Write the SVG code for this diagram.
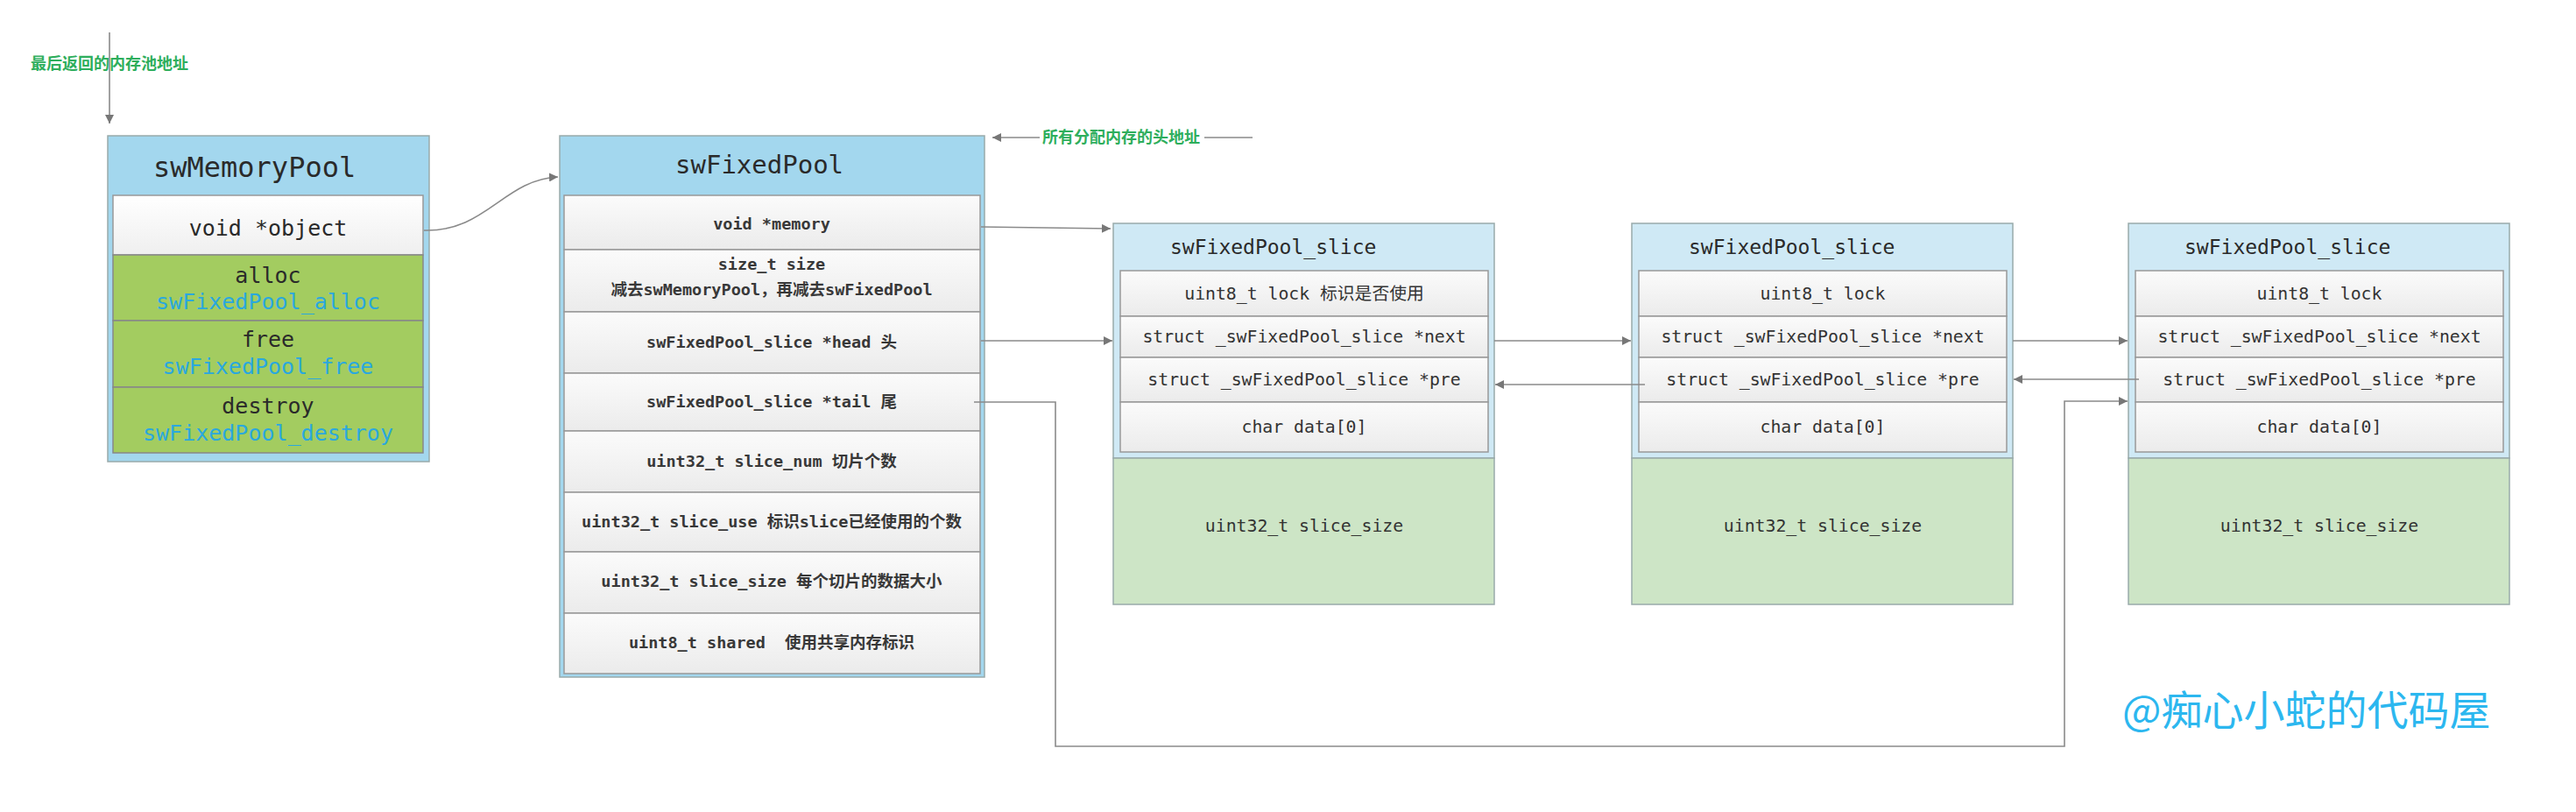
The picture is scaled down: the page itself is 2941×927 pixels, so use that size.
<svg xmlns="http://www.w3.org/2000/svg" width="2941" height="927" viewBox="0 0 2941 927">
<style>
.outer{fill:#a3d7ee;stroke:#9aa;stroke-width:1.5}
.souter{fill:#cfe9f5;stroke:#9aa;stroke-width:1.5}
.sgreen{fill:#cde5c6;stroke:#9aa;stroke-width:1.5}
.row{fill:url(#rowg);stroke:#999;stroke-width:1.5}
.wrow{fill:url(#wrowg);stroke:#999;stroke-width:1.5}
.grow{fill:#a3cc60;stroke:#888;stroke-width:1.5}
.mono{font-family:"DejaVu Sans Mono","Liberation Mono","Noto Sans CJK SC",monospace;fill:#2a2a2a}
.t1{font-size:32px}
.t2{font-size:29px}
.t3{font-size:23px}
.big{font-size:25px}
.fx{font-size:18.5px;font-weight:bold;fill:#383838}
.sl{font-size:19.8px;fill:#333}
.fn{fill:#2aa8de}
.lbl{font-family:"Noto Sans CJK SC","Noto Sans",sans-serif;font-size:18px;font-weight:bold;fill:#2eae5c}
.wm{font-family:"Noto Sans CJK SC","Noto Sans",sans-serif;font-size:47px;fill:#2cb7ef}
.c{text-anchor:middle}
.conn{fill:none;stroke:#8a8a8a;stroke-width:1.6}
</style>
<defs>
<linearGradient id="rowg" x1="0" y1="0" x2="0" y2="1"><stop offset="0" stop-color="#fbfbfb"/><stop offset="1" stop-color="#ebebeb"/></linearGradient>
<linearGradient id="wrowg" x1="0" y1="0" x2="0" y2="1"><stop offset="0" stop-color="#ffffff"/><stop offset="1" stop-color="#efefef"/></linearGradient>
<marker id="arr" viewBox="0 0 10 10" refX="10" refY="5" markerWidth="10" markerHeight="10" markerUnits="userSpaceOnUse" orient="auto">
<path d="M0,0 L10,5 L0,10 z" fill="#777"/>
</marker>
</defs>
<rect width="2941" height="927" fill="#ffffff"/>

<g id="label-return">
<text class="lbl" x="35" y="79">最后返回的内存池地址</text>
</g>

<g id="swMemoryPool">
<rect class="outer" x="123" y="155" width="367" height="372"/>
<text class="mono t1" x="175" y="202">swMemoryPool</text>
<rect class="wrow" x="129" y="223" width="354" height="68"/>
<text class="mono big c" x="306" y="269">void *object</text>
<rect class="grow" x="129" y="291" width="354" height="75"/>
<text class="mono big c" x="306" y="323">alloc</text>
<text class="mono big c fn" x="306" y="353">swFixedPool_alloc</text>
<rect class="grow" x="129" y="366" width="354" height="76"/>
<text class="mono big c" x="306" y="396">free</text>
<text class="mono big c fn" x="306" y="427">swFixedPool_free</text>
<rect class="grow" x="129" y="442" width="354" height="75"/>
<text class="mono big c" x="306" y="472">destroy</text>
<text class="mono big c fn" x="306" y="503">swFixedPool_destroy</text>
</g>

<g id="swFixedPool">
<rect class="outer" x="639" y="155" width="485" height="618"/>
<text class="mono t2" x="771" y="198">swFixedPool</text>
<rect class="row" x="644" y="223" width="475" height="62"/>
<text class="mono fx c" x="881" y="262">void *memory</text>
<rect class="row" x="644" y="285" width="475" height="71"/>
<text class="mono fx c" x="881" y="308">size_t size</text>
<text class="mono fx c" x="881" y="337">减去swMemoryPool，再减去swFixedPool</text>
<rect class="row" x="644" y="356" width="475" height="70"/>
<text class="mono fx c" x="881" y="397">swFixedPool_slice *head 头</text>
<rect class="row" x="644" y="426" width="475" height="66"/>
<text class="mono fx c" x="881" y="465">swFixedPool_slice *tail 尾</text>
<rect class="row" x="644" y="492" width="475" height="70"/>
<text class="mono fx c" x="881" y="533">uint32_t slice_num 切片个数</text>
<rect class="row" x="644" y="562" width="475" height="68"/>
<text class="mono fx c" x="881" y="602">uint32_t slice_use 标识slice已经使用的个数</text>
<rect class="row" x="644" y="630" width="475" height="70"/>
<text class="mono fx c" x="881" y="670">uint32_t slice_size 每个切片的数据大小</text>
<rect class="row" x="644" y="700" width="475" height="69"/>
<text class="mono fx c" x="881" y="740" style="white-space:pre">uint8_t shared  使用共享内存标识</text>
</g>

<g id="slice1">
<rect class="souter" x="1271" y="255" width="435" height="268"/>
<rect class="sgreen" x="1271" y="523" width="435" height="167"/>
<text class="mono t3" x="1336" y="290">swFixedPool_slice</text>
<rect class="row" x="1279" y="309" width="420" height="52"/>
<text class="mono sl c" x="1489" y="342">uint8_t lock 标识是否使用</text>
<rect class="row" x="1279" y="361" width="420" height="47"/>
<text class="mono sl c" x="1489" y="391">struct _swFixedPool_slice *next</text>
<rect class="row" x="1279" y="408" width="420" height="51"/>
<text class="mono sl c" x="1489" y="440">struct _swFixedPool_slice *pre</text>
<rect class="row" x="1279" y="459" width="420" height="57"/>
<text class="mono sl c" x="1489" y="494">char data[0]</text>
<text class="mono sl c" x="1489" y="607">uint32_t slice_size</text>
</g>

<g id="slice2">
<rect class="souter" x="1863" y="255" width="435" height="268"/>
<rect class="sgreen" x="1863" y="523" width="435" height="167"/>
<text class="mono t3" x="1928" y="290">swFixedPool_slice</text>
<rect class="row" x="1871" y="309" width="420" height="52"/>
<text class="mono sl c" x="2081" y="342">uint8_t lock</text>
<rect class="row" x="1871" y="361" width="420" height="47"/>
<text class="mono sl c" x="2081" y="391">struct _swFixedPool_slice *next</text>
<rect class="row" x="1871" y="408" width="420" height="51"/>
<text class="mono sl c" x="2081" y="440">struct _swFixedPool_slice *pre</text>
<rect class="row" x="1871" y="459" width="420" height="57"/>
<text class="mono sl c" x="2081" y="494">char data[0]</text>
<text class="mono sl c" x="2081" y="607">uint32_t slice_size</text>
</g>

<g id="slice3">
<rect class="souter" x="2430" y="255" width="435" height="268"/>
<rect class="sgreen" x="2430" y="523" width="435" height="167"/>
<text class="mono t3" x="2494" y="290">swFixedPool_slice</text>
<rect class="row" x="2438" y="309" width="420" height="52"/>
<text class="mono sl c" x="2648" y="342">uint8_t lock</text>
<rect class="row" x="2438" y="361" width="420" height="47"/>
<text class="mono sl c" x="2648" y="391">struct _swFixedPool_slice *next</text>
<rect class="row" x="2438" y="408" width="420" height="51"/>
<text class="mono sl c" x="2648" y="440">struct _swFixedPool_slice *pre</text>
<rect class="row" x="2438" y="459" width="420" height="57"/>
<text class="mono sl c" x="2648" y="494">char data[0]</text>
<text class="mono sl c" x="2648" y="607">uint32_t slice_size</text>
</g>

<g id="connectors">
<path class="conn" d="M125 37 L125 141" marker-end="url(#arr)"/>
<path class="conn" d="M484 263 C555 265 575 205 637 202" marker-end="url(#arr)"/>
<path class="conn" d="M1430 157 L1133 157" marker-end="url(#arr)"/>
<path class="conn" d="M1120 259 L1268 261" marker-end="url(#arr)"/>
<path class="conn" d="M1120 389 L1270 389" marker-end="url(#arr)"/>
<path class="conn" d="M1112 459 L1205 459 L1205 852 L2357 852 L2357 458 L2429 458" marker-end="url(#arr)"/>
<path class="conn" d="M1706 389 L1862 389" marker-end="url(#arr)"/>
<path class="conn" d="M1878 439 L1707 439" marker-end="url(#arr)"/>
<path class="conn" d="M2298 389 L2429 389" marker-end="url(#arr)"/>
<path class="conn" d="M2442 433 L2299 433" marker-end="url(#arr)"/>
</g>

<g id="label-head">
<rect x="1187" y="143" width="188" height="28" fill="#ffffff"/>
<text class="lbl" x="1190" y="163">所有分配内存的头地址</text>
</g>

<g id="watermark">
<text class="wm" x="2423" y="828">@痴心小蛇的代码屋</text>
</g>
</svg>
